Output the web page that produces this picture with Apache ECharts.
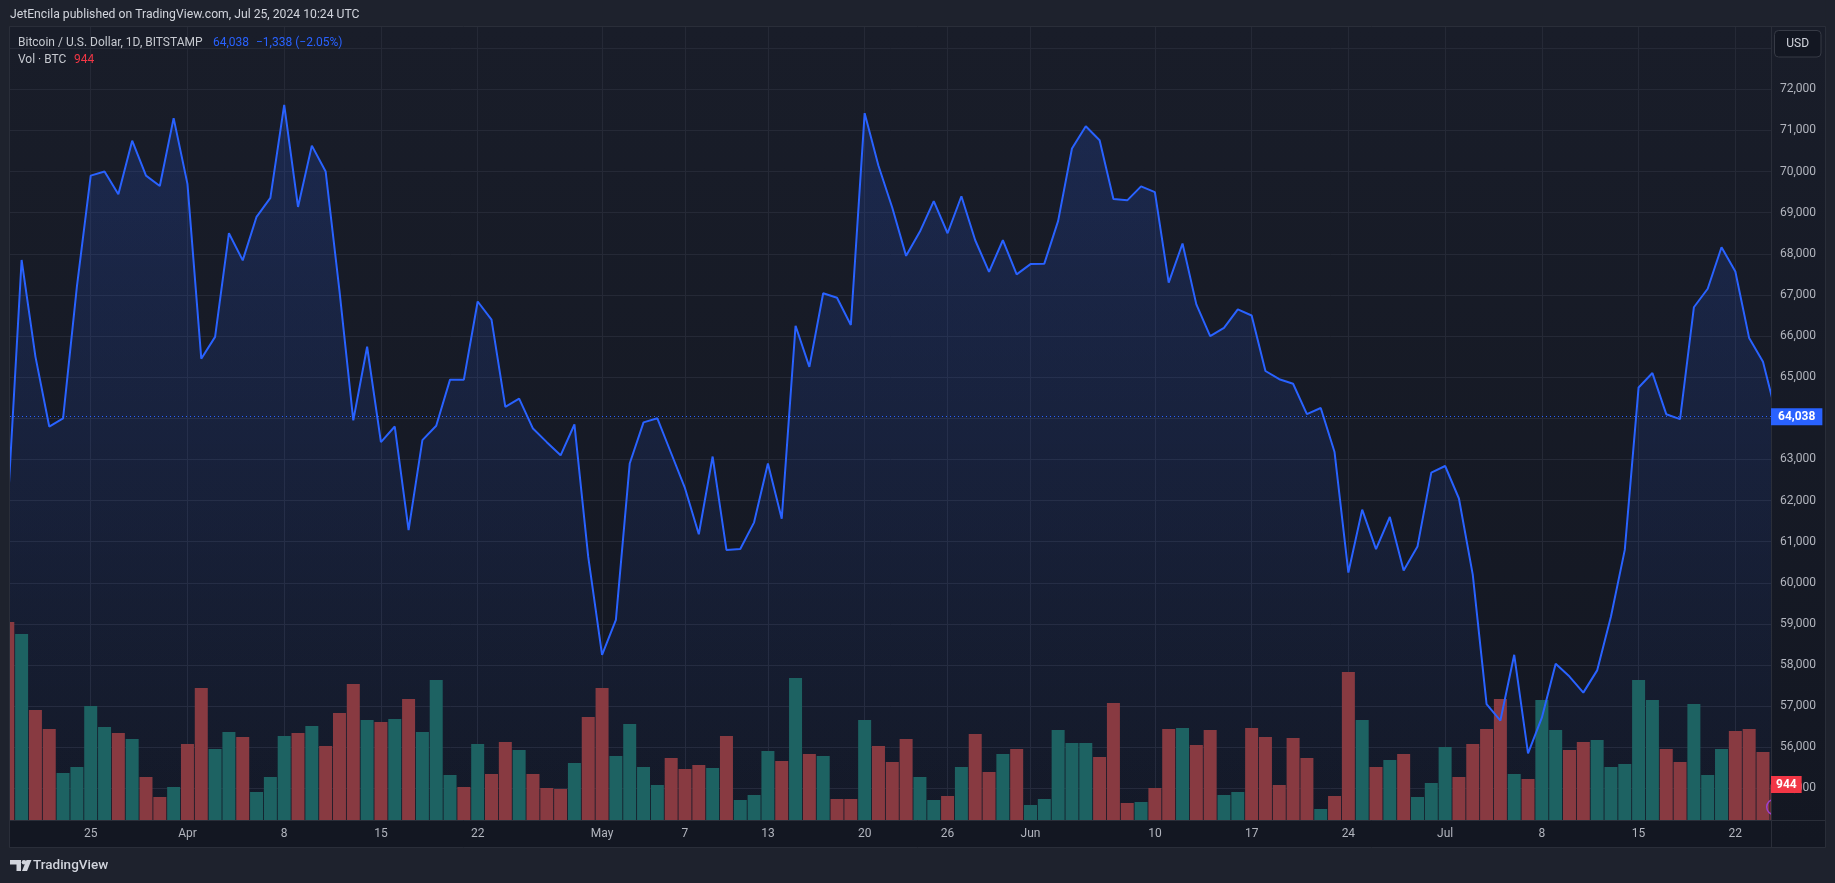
<!DOCTYPE html>
<html><head><meta charset="utf-8">
<script src="https://cdn.jsdelivr.net/npm/echarts@6/dist/echarts.min.js"></script>
<style>html,body{margin:0;padding:0;background:#1e222d;}#c{width:1835px;height:883px;}</style>
</head><body><div id="c"></div>
<script>
// ---- data ----
const startDate = '2024-03-19';
const closes = [61900,67850,65500,63800,64000,67200,69900,70000,69450,70750,
69900,69650,71300,69700,65450,65980,68500,67840,68900,69360,
71620,69140,70630,70000,67100,63950,65740,63420,63800,61280,
63470,63820,64940,64940,66840,66400,64280,64480,63750,63420,
63100,63850,60630,58250,59100,62900,63900,64000,63150,62300,
61180,63070,60800,60820,61470,62900,61560,66250,65250,67040,
66930,66270,71420,70140,69120,67950,68540,69280,68500,69400,
68330,67560,68330,67500,67750,67760,68800,70560,71100,70760,
69330,69300,69640,69500,67300,68250,66770,66000,66200,66650,
66500,65150,64950,64840,64100,64250,63180,60250,61780,60820,
61600,60300,60880,62680,62840,62050,60200,57050,56650,58250,
55850,56720,58030,57720,57330,57870,59180,60800,64750,65100,
64100,63980,66700,67150,68160,67570,65950,65376,64038];
const volumes = [5267,4948,2926,2421,1250,1410,3032,2474,2314,2155,
1144,612,878,2022,3511,1889,2341,2208,745,1144,
2234,2314,2500,1968,2846,3618,2660,2607,2687,3219,
2341,3724,1197,878,2022,1224,2075,1862,1224,851,
825,1516,2740,3511,1702,2554,1410,931,1649,1357,
1463,1383,2234,532,665,1835,1569,3777,1756,1702,
559,559,2660,1968,1543,2155,1144,532,638,1410,
2288,1277,1756,1889,399,559,2394,2048,2048,1676,
3112,452,479,851,2421,2447,1995,2394,665,745,
2447,2208,931,2181,1649,293,638,3937,2660,1410,
1596,1756,612,984,1942,1144,2022,2421,3219,1224,
1091,3192,2394,1862,2075,2128,1410,1490,3724,3192,
1889,1543,3086,1197,1889,2367,2421,1809,944];
const volUp = [0,1,0,0,1,1,1,1,0,1,
0,0,1,0,0,1,1,0,1,1,
1,0,1,0,0,0,1,0,1,0,
1,1,1,0,1,0,0,1,0,0,
0,1,0,0,1,1,1,1,0,0,
0,1,0,1,1,1,0,1,0,1,
0,0,1,0,0,0,1,1,0,1,
0,0,1,0,1,1,1,1,1,0,
0,0,1,0,0,1,0,0,1,1,
0,0,0,0,0,1,0,0,1,0,
1,0,1,1,1,0,0,0,0,1,
0,1,1,0,0,1,1,1,1,1,
0,0,1,1,1,0,0,0,0];
const tickDates = ['2024-03-25','2024-04-01','2024-04-08','2024-04-15','2024-04-22','2024-05-01','2024-05-07','2024-05-13','2024-05-20','2024-05-26','2024-06-01','2024-06-10','2024-06-17','2024-06-24','2024-07-01','2024-07-08','2024-07-15','2024-07-22'];
const tickLabels = ['25','Apr','8','15','22','May','7','13','20','26','Jun','10','17','24','Jul','8','15','22'];
const priceTicks = [55000,56000,57000,58000,59000,60000,61000,62000,63000,64000,65000,66000,67000,68000,69000,70000,71000,72000,73000];

// ---- derived ----
const dayIdx = d => Math.round((Date.parse(d) - Date.parse(startDate)) / 86400000);
const tickIdx = tickDates.map(dayIdx);
const labelMap = {}; tickIdx.forEach((v, i) => labelMap[v] = tickLabels[i]);
const n = closes.length;
const lastPrice = closes[n - 1], prevPrice = closes[n - 2];
const chg = lastPrice - prevPrice, pct = chg / prevPrice * 100;
const lastVol = volumes[n - 1];
const fmt = v => Math.round(v).toLocaleString('en-US');
const sgn = v => (v < 0 ? '\u2212' : '+');
const priceData = closes.map((c, i) => [i, c]);
const FONT = 'Roboto, "Noto Sans", sans-serif';
const UP = '#1d6262', DOWN = '#883a41', BLUE = '#2962ff', RED = '#f23645';

const chart = echarts.init(document.getElementById('c'), null, {renderer: 'canvas'});
const paneGrad = new echarts.graphic.LinearGradient(0, 0, 0, 1, [{offset: 0, color: '#191d29'}, {offset: 1, color: '#131722'}]);
const paneGrad2 = new echarts.graphic.LinearGradient(0, 0, 0, 1, [{offset: 0, color: '#191d29'}, {offset: 1, color: '#131722'}]);

chart.setOption({
  backgroundColor: '#1e222d',
  animation: false,
  textStyle: {fontFamily: FONT},
  grid: {left: 10, right: 64, top: 7.05, bottom: 53.45},
  xAxis: {
    type: 'value', min: 0.16, max: 127.58, offset: -9, z: 200,
    axisLine: {show: false}, axisTick: {show: false}, splitLine: {show: false},
    axisLabel: {customValues: tickIdx, formatter: v => labelMap[v] || '', color: '#b2b5be', fontSize: 12, margin: 7, fontFamily: FONT}
  },
  yAxis: [{
    type: 'value', position: 'right', min: 54000, max: 74000, interval: 1000, z: 200,
    axisLine: {show: false}, axisTick: {show: false}, splitLine: {show: false},
    axisLabel: {color: '#b2b5be', fontSize: 12, margin: 9, align: 'left', fontFamily: FONT,
      formatter: v => (v >= 55000 && v <= 72000) ? fmt(v) : ''}
  }, {
    type: 'value', min: -254, max: 21624, show: false, splitLine: {show: false}
  }],
  series: [
    { // grid lines
      type: 'scatter', data: [[64, 64000]], symbolSize: 0, z: 1, silent: true,
      markLine: {
        z: 1, silent: true, symbol: ['none', 'none'], animation: false,
        label: {show: false},
        lineStyle: {color: '#252936', width: 1, type: 'solid'},
        emphasis: {disabled: true},
        data: tickIdx.map(i => ({xAxis: i})).concat(priceTicks.map(v => ({yAxis: v})))
      }
    },
    { // area
      type: 'line', data: priceData, symbol: 'none', z: 2, silent: true,
      lineStyle: {width: 0},
      areaStyle: {origin: 'start', color: new echarts.graphic.LinearGradient(0, 0, 0, 1, [
        {offset: 0, color: 'rgba(41,98,255,0.25)'}, {offset: 1, color: 'rgba(41,98,255,0.03)'}])}
    },
    { // volume
      type: 'bar', yAxisIndex: 1, barWidth: 13, clip: true, z: 3, silent: true,
      data: volumes.map((v, i) => ({value: [i, v], itemStyle: {color: volUp[i] ? UP : DOWN}}))
    },
    { // price line
      type: 'line', data: priceData, symbol: 'none', z: 4, silent: true,
      lineStyle: {color: BLUE, width: 2}
    },
    { // last price marker
      type: 'scatter', data: [[64, lastPrice]], symbolSize: 0, z: 210, silent: true,
      markLine: {
        z: 210, silent: true, symbol: ['none', 'none'], animation: false,
        lineStyle: {color: BLUE, width: 1, type: [1, 3]},
        label: {show: true, position: 'end', distance: 0, formatter: p => fmt(p.value),
          backgroundColor: BLUE, color: '#ffffff', padding: [3, 7, 2, 7], fontSize: 12, fontWeight: 'bold', fontFamily: FONT},
        emphasis: {disabled: true},
        data: [{yAxis: lastPrice}]
      }
    },
    { // last volume marker
      type: 'scatter', yAxisIndex: 1, data: [[64, lastVol]], symbolSize: 0, z: 210, silent: true,
      markLine: {
        z: 210, silent: true, symbol: ['none', 'none'], animation: false,
        lineStyle: {color: 'rgba(0,0,0,0)', width: 1},
        label: {show: true, position: 'end', distance: 0, formatter: p => fmt(p.value),
          backgroundColor: RED, color: '#ffffff', padding: [3, 5, 2, 5], fontSize: 12, fontWeight: 'bold', fontFamily: FONT},
        emphasis: {disabled: true},
        data: [{yAxis: lastVol}]
      }
    }
  ],
  graphic: [
    {type: 'rect', z: 0, silent: true, shape: {x: 10, y: 26.5, width: 1815, height: 821}, style: {fill: paneGrad}},
    {type: 'rect', z: 100, silent: true, shape: {x: 0, y: 0, width: 1835, height: 26.5}, style: {fill: '#1e222d'}},
    {type: 'rect', z: 100, silent: true, shape: {x: 0, y: 0, width: 9.5, height: 883}, style: {fill: '#1e222d'}},
    {type: 'rect', z: 100, silent: true, shape: {x: 1825.5, y: 0, width: 10, height: 883}, style: {fill: '#1e222d'}},
    {type: 'rect', z: 100, silent: true, shape: {x: 0, y: 847.5, width: 1835, height: 36}, style: {fill: '#1e222d'}},
    {type: 'circle', z: 99, silent: true, shape: {cx: 1774.5, cy: 807, r: 7.8}, style: {fill: 'none', stroke: '#9c3fcf', lineWidth: 1.5}},
    {type: 'rect', z: 100, silent: true, shape: {x: 1771, y: 26.5, width: 54.5, height: 821}, style: {fill: paneGrad2}},
    {type: 'rect', z: 100, silent: true, shape: {x: 10, y: 820.5, width: 1761.5, height: 27}, style: {fill: '#131722'}},
    {type: 'rect', z: 105, silent: true, shape: {x: 9.5, y: 26.5, width: 1816, height: 821}, style: {fill: 'none', stroke: '#2a2e39', lineWidth: 1}},
    {type: 'line', z: 105, silent: true, shape: {x1: 1771.5, y1: 26.5, x2: 1771.5, y2: 847.5}, style: {stroke: '#2a2e39', lineWidth: 1}},
    {type: 'line', z: 105, silent: true, shape: {x1: 9.5, y1: 820.5, x2: 1825.5, y2: 820.5}, style: {stroke: '#2a2e39', lineWidth: 1}},
    // header
    {type: 'text', z: 110, silent: true, x: 10, y: 15, style: {text: 'JetEncila published on TradingView.com, Jul 25, 2024 10:24 UTC', fill: '#d1d4dc', font: '12.2px ' + FONT, align: 'left', verticalAlign: 'middle'}},
    // legend
    {type: 'text', z: 110, silent: true, x: 18, y: 42.5, style: {text: 'Bitcoin / U.S. Dollar, 1D, BITSTAMP', fill: '#c6c9d0', font: '12px ' + FONT, align: 'left', verticalAlign: 'middle'}},
    {type: 'text', z: 110, silent: true, x: 213, y: 42.5, style: {text: fmt(lastPrice), fill: BLUE, font: '12px ' + FONT, align: 'left', verticalAlign: 'middle'}},
    {type: 'text', z: 110, silent: true, x: 256, y: 42.5, style: {text: sgn(chg) + fmt(Math.abs(chg)) + ' (' + sgn(pct) + Math.abs(pct).toFixed(2) + '%)', fill: BLUE, font: '12px ' + FONT, align: 'left', verticalAlign: 'middle'}},
    {type: 'text', z: 110, silent: true, x: 18, y: 59.5, style: {text: 'Vol \u00b7 BTC', fill: '#c6c9d0', font: '12px ' + FONT, align: 'left', verticalAlign: 'middle'}},
    {type: 'text', z: 110, silent: true, x: 74, y: 59.5, style: {text: fmt(lastVol), fill: RED, font: '12px ' + FONT, align: 'left', verticalAlign: 'middle'}},
    // USD button
    {type: 'rect', z: 220, silent: true, shape: {x: 1774.5, y: 30.5, width: 46.5, height: 26.5, r: 4}, style: {fill: '#131722', stroke: '#363a45', lineWidth: 1}},
    {type: 'text', z: 221, silent: true, x: 1797.7, y: 44, style: {text: 'USD', fill: '#d1d4dc', font: '12px ' + FONT, align: 'center', verticalAlign: 'middle'}},
    // footer logo
    {type: 'polygon', z: 110, silent: true, shape: {points: [[10, 860], [21, 860], [21, 871], [16.5, 871], [16.5, 864.5], [10, 864.5]]}, style: {fill: '#d1d4dc'}},
    {type: 'circle', z: 110, silent: true, shape: {cx: 24, cy: 862.3, r: 2.3}, style: {fill: '#d1d4dc'}},
    {type: 'polygon', z: 110, silent: true, shape: {points: [[26.5, 860], [31.5, 860], [27, 871], [22, 871]]}, style: {fill: '#d1d4dc'}},
    {type: 'text', z: 110, silent: true, x: 33, y: 866, style: {text: 'TradingView', fill: '#d1d4dc', font: '500 13.5px ' + FONT, align: 'left', verticalAlign: 'middle'}}
  ]
});
</script></body></html>
